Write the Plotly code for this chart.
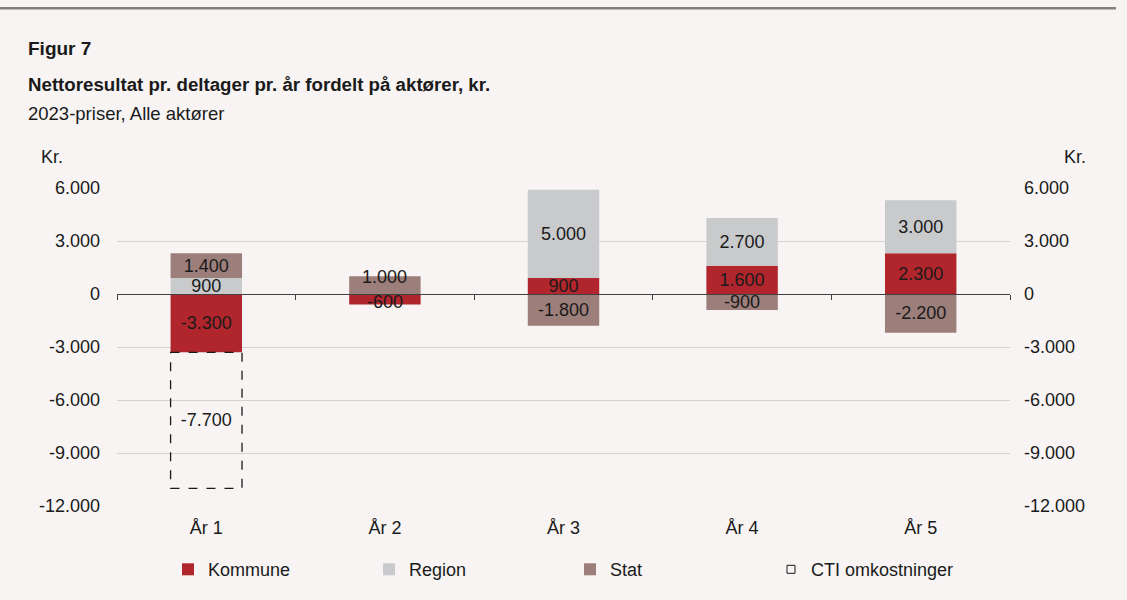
import plotly.graph_objects as go

categories = ["År 1", "År 2", "År 3", "År 4", "År 5"]
kommune = [-3300, -600, 900, 1600, 2300]
region = [900, 0, 5000, 2700, 3000]
stat = [1400, 1000, -1800, -900, -2200]
cti = [-7700, 0, 0, 0, 0]

tick_vals = [6000, 3000, 0, -3000, -6000, -9000, -12000]
tick_text = ["6.000", "3.000", "0", "-3.000", "-6.000", "-9.000", "-12.000"]

C_KOM = "#B1262D"
C_REG = "#C9CACC"
C_STAT = "#9C7E7B"
BG = "#F7F4F3"
FONT = "Arial, Liberation Sans, sans-serif"
TXT = "#1a1a1a"


def fmt(v):
    if v == 0:
        return ""
    return f"{v:,.0f}".replace(",", ".")


# categories where two thin bars of opposite sign would make labels collide:
# their labels are drawn as annotations nudged apart instead of inside text
crowded = [abs(k) < 1100 and abs(s) < 1100 and k * s < 0 for k, s in zip(kommune, stat)]

fig = go.Figure()
for name, vals, col in [("Kommune", kommune, C_KOM), ("Region", region, C_REG), ("Stat", stat, C_STAT)]:
    txt = [fmt(v) if not (crowded[i] and name != "Region") else "" for i, v in enumerate(vals)]
    fig.add_trace(go.Bar(
        x=categories, y=vals, name=name, marker=dict(color=col, line=dict(width=0)),
        text=txt, textposition="inside", insidetextanchor="middle",
        textfont=dict(size=18, color=TXT, family=FONT), width=0.4,
        hoverinfo="skip", cliponaxis=False,
    ))

# CTI: transparent bar carrying the label; dashed outline drawn as a shape derived from the data
fig.add_trace(go.Bar(
    x=categories, y=cti, name="CTI omkostninger", showlegend=False,
    marker=dict(color="rgba(0,0,0,0)", line=dict(width=0)),
    text=[fmt(v) for v in cti], textposition="inside", insidetextanchor="middle",
    textfont=dict(size=18, color=TXT, family=FONT), width=0.4, hoverinfo="skip",
))
fig.add_trace(go.Scatter(
    x=[None], y=[None], mode="markers", name="CTI omkostninger",
    marker=dict(symbol="square-open", size=8, color=TXT, line=dict(width=1)),
))
for i, v in enumerate(cti):
    if v != 0:
        base = kommune[i] if kommune[i] < 0 else 0
        fig.add_shape(type="rect", xref="x", yref="y", x0=i - 0.2, x1=i + 0.2,
                      y0=base, y1=base + v, line=dict(color=TXT, width=1.3, dash="dash"),
                      fillcolor="rgba(0,0,0,0)", layer="above")

for i, c in enumerate(crowded):
    if c:
        for v in (kommune[i], stat[i]):
            fig.add_annotation(x=categories[i], y=v / 2, text=fmt(v), showarrow=False,
                               xref="x", yref="y", yshift=8 if v > 0 else -3,
                               font=dict(size=18, color=TXT, family=FONT))

# invisible trace for right axis
fig.add_trace(go.Scatter(x=categories, y=[None] * 5, yaxis="y2", showlegend=False, hoverinfo="skip"))
# invisible trace for zero-line category axis
fig.add_trace(go.Scatter(x=categories, y=[None] * 5, xaxis="x2", showlegend=False, hoverinfo="skip"))

fig.update_layout(
    width=1127, height=600,
    paper_bgcolor=BG, plot_bgcolor=BG,
    barmode="relative", uniformtext=dict(mode="show", minsize=18),
    margin=dict(l=117, r=117, t=188, b=92),
    font=dict(family=FONT, size=18, color=TXT),
    xaxis=dict(type="category", categoryorder="array", categoryarray=categories,
               range=[-0.5, 4.5], showline=False, ticks="", showgrid=False,
               tickfont=dict(size=18), zeroline=False, ticklabelstandoff=9),
    xaxis2=dict(type="category", categoryorder="array", categoryarray=categories,
                overlaying="x", anchor="free", position=12000 / 18000, side="bottom",
                range=[-0.5, 4.5], showline=True, linecolor="#404040", linewidth=1,
                ticks="outside", tickson="boundaries", ticklen=5, tickcolor="#404040",
                showticklabels=False, showgrid=False),
    yaxis=dict(range=[-12000, 6000], tickvals=tick_vals, ticktext=tick_text,
               showgrid=True, gridcolor="#D6D4D3", gridwidth=1, zeroline=False,
               showline=False, ticks="", ticklabelstandoff=16, tickfont=dict(size=18)),
    yaxis2=dict(range=[-12000, 6000], tickvals=tick_vals, ticktext=tick_text,
                overlaying="y", side="right", showgrid=False, zeroline=False,
                showline=False, ticks="", ticklabelstandoff=13, tickfont=dict(size=18)),
    legend=dict(orientation="h", x=(168 - 117) / 893, xanchor="left", y=-0.2, yanchor="middle",
                font=dict(size=18), entrywidth=156, itemwidth=30, bgcolor="rgba(0,0,0,0)",
                traceorder="normal"),
    showlegend=True,
)


def py(px):
    return (508 - px) / 320


def pxx(px):
    return (px - 117) / 893


fig.add_annotation(text="<b>Figur 7</b>", xref="paper", yref="paper", x=pxx(26), y=py(48),
                   xanchor="left", yanchor="middle", showarrow=False, font=dict(size=19))
fig.add_annotation(text="<b>Nettoresultat pr. deltager pr. år fordelt på aktører, kr.</b>",
                   xref="paper", yref="paper", x=pxx(26), y=py(84), xanchor="left",
                   yanchor="middle", showarrow=False, font=dict(size=18.7))
fig.add_annotation(text="2023-priser, Alle aktører", xref="paper", yref="paper", x=pxx(26),
                   y=py(113), xanchor="left", yanchor="middle", showarrow=False,
                   font=dict(size=18.5))
fig.add_annotation(text="Kr.", xref="paper", yref="paper", x=pxx(39), y=py(157),
                   xanchor="left", yanchor="middle", showarrow=False, font=dict(size=18))
fig.add_annotation(text="Kr.", xref="paper", yref="paper", x=pxx(1062), y=py(157),
                   xanchor="left", yanchor="middle", showarrow=False, font=dict(size=18))
fig.add_shape(type="line", xref="paper", yref="paper", x0=pxx(0), x1=pxx(1116),
              y0=py(7), y1=py(7), line=dict(color="#808080", width=2.5))

fig.write_html("out.html", config={"displayModeBar": False},
               post_script="document.body.style.margin='0';document.body.style.overflow='hidden';")
